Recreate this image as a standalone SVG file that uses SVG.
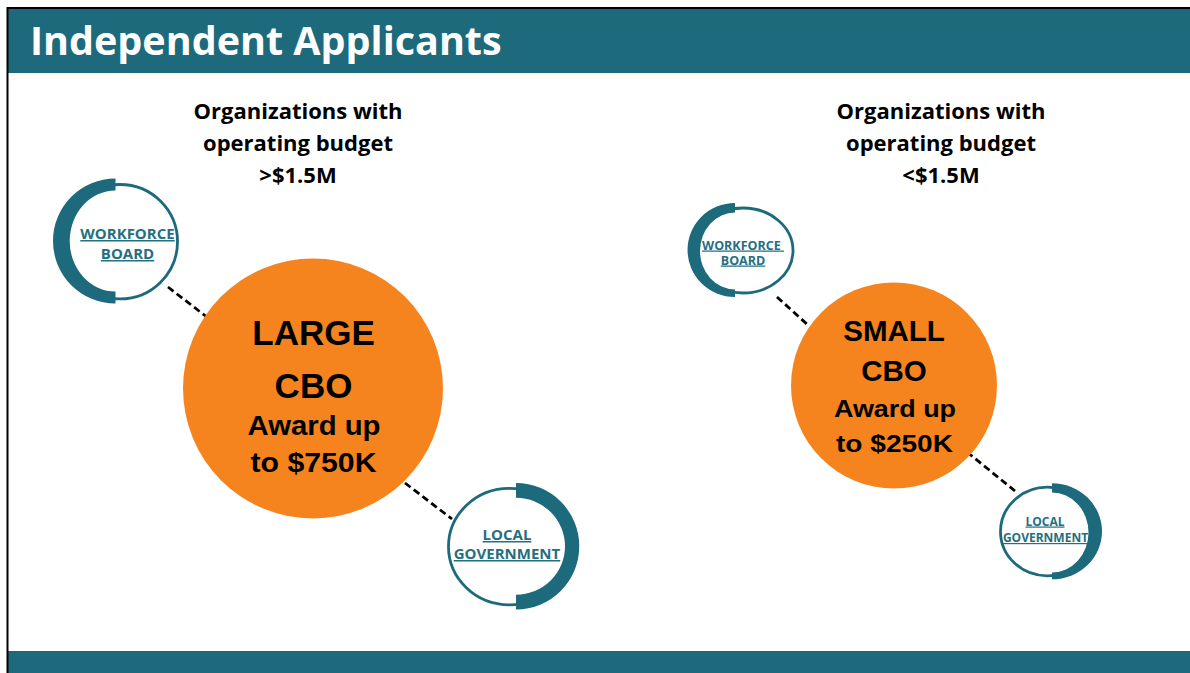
<svg xmlns="http://www.w3.org/2000/svg" width="1190" height="673" viewBox="0 0 1190 673">
<style>
.teal{fill:#1c6a7b}
.ring{fill:none;stroke:#1c6a7b;stroke-width:2.8}
.lbl{font-family:"Open Sans","Liberation Sans",sans-serif;font-weight:700;fill:#246f80;text-anchor:middle;text-decoration:underline}
.hd{font-family:"Open Sans","Liberation Sans",sans-serif;font-weight:700;fill:#000;text-anchor:middle;font-size:22px}
.cbo{font-family:"Liberation Sans",Arial,sans-serif;font-weight:700;fill:#000;text-anchor:middle}
.dash{stroke:#000;stroke-width:2.8;stroke-dasharray:7 4;fill:none}
</style>
<rect x="0" y="0" width="1190" height="673" fill="#fff"/>
<g id="header">
<rect x="8" y="9" width="1182" height="64" class="teal"/>
<text x="30" y="55" font-family="'Open Sans','Liberation Sans',sans-serif" font-weight="700" font-size="39.5" fill="#fff">Independent Applicants</text>
</g>
<rect id="footer" x="8" y="651" width="1182" height="22" class="teal"/>
<line x1="7.5" y1="7" x2="7.5" y2="673" stroke="#000" stroke-width="2"/>
<line x1="7" y1="8" x2="1190" y2="8" stroke="#000" stroke-width="2"/>

<g id="heading-left">
<text class="hd" x="298" y="119">Organizations with</text>
<text class="hd" x="298" y="151">operating budget</text>
<text class="hd" x="298" y="183">&gt;$1.5M</text>
</g>
<g id="heading-right">
<text class="hd" x="941" y="119">Organizations with</text>
<text class="hd" x="941" y="151">operating budget</text>
<text class="hd" x="941" y="183">&lt;$1.5M</text>
</g>

<g id="connectors">
<line class="dash" x1="168" y1="287" x2="208" y2="318"/>
<line class="dash" x1="405" y1="483" x2="452" y2="519"/>
<line class="dash" x1="777" y1="297" x2="809" y2="326"/>
<line class="dash" x1="967" y1="452" x2="1015" y2="491"/>
</g>

<g id="large-cbo">
<circle cx="313" cy="388.5" r="130" fill="#f5841f"/>
<text class="cbo" x="313.5" y="345" font-size="35">LARGE</text>
<text class="cbo" x="313.5" y="398" font-size="35">CBO</text>
<text class="cbo" x="314" y="435" font-size="27" textLength="133" lengthAdjust="spacingAndGlyphs">Award up</text>
<text class="cbo" x="313.5" y="472" font-size="27" textLength="126" lengthAdjust="spacingAndGlyphs">to $750K</text>
</g>

<g id="workforce-board-left">
<ellipse class="ring" cx="120" cy="241.7" rx="57.5" ry="57.2" fill="#fff"/>
<path class="teal" d="M115.5,178.5 A62.5,62.5 0 0 0 115.5,303.5 L115.5,291.5 A45.8,50.5 0 0 1 115.5,190.5 Z"/>
<text class="lbl" x="127.5" y="239" font-size="15">WORKFORCE</text>
<text class="lbl" x="127.5" y="259" font-size="15">BOARD</text>
</g>

<g id="local-government-left">
<ellipse class="ring" cx="509.3" cy="546.6" rx="60.8" ry="58.2" fill="#fff"/>
<path class="teal" d="M516,483 A63.3,63.3 0 0 1 516,609.6 L516,594.8 A49,48.5 0 0 0 516,497.8 Z"/>
<text class="lbl" x="507" y="540" font-size="15">LOCAL</text>
<text class="lbl" x="507" y="559" font-size="15">GOVERNMENT</text>
</g>

<g id="small-cbo">
<circle cx="894" cy="385.5" r="103" fill="#f5841f"/>
<text class="cbo" x="894" y="341" font-size="29.5">SMALL</text>
<text class="cbo" x="894" y="381" font-size="29.5">CBO</text>
<text class="cbo" x="895" y="417" font-size="24" textLength="122" lengthAdjust="spacingAndGlyphs">Award up</text>
<text class="cbo" x="894.5" y="452" font-size="24" textLength="117" lengthAdjust="spacingAndGlyphs">to $250K</text>
</g>

<g id="workforce-board-right">
<ellipse class="ring" cx="743" cy="250.5" rx="50" ry="42.5" fill="#fff"/>
<path class="teal" d="M735,203 A47.5,47 0 0 0 735,297 L735,289.5 A35,38.5 0 0 1 735,212.5 Z"/>
<text class="lbl" x="743" y="249.5" font-size="12.5" xml:space="preserve">WORKFORCE </text>
<text class="lbl" x="743" y="264.5" font-size="12.5">BOARD</text>
</g>

<g id="local-government-right">
<ellipse class="ring" cx="1047.3" cy="531.5" rx="46.8" ry="44.3" fill="#fff"/>
<path class="teal" d="M1052,483.3 A50,48 0 0 1 1052,579.3 L1052,572.5 A36.5,40 0 0 0 1052,492.5 Z"/>
<text class="lbl" x="1045" y="525.5" font-size="12">LOCAL</text>
<text class="lbl" x="1045.5" y="542" font-size="12">GOVERNMENT</text>
</g>
</svg>
